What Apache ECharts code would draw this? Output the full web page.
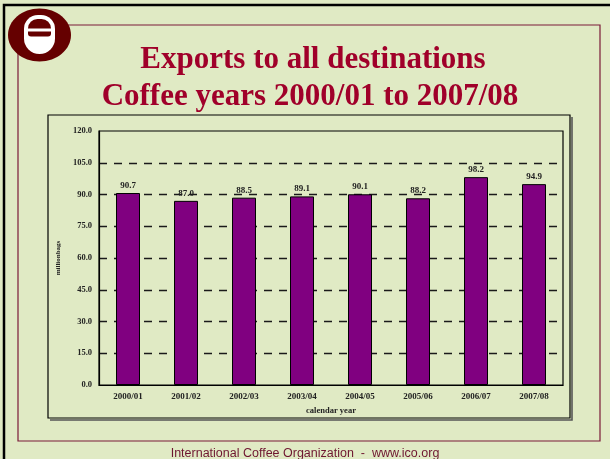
<!DOCTYPE html>
<html>
<head>
<meta charset="utf-8">
<script src="https://cdn.jsdelivr.net/npm/echarts@6/dist/echarts.min.js"></script>
<style>
  html, body { margin: 0; padding: 0; background: #e0eac4; }
  #chart { width: 610px; height: 459px; }
</style>
</head>
<body>
<div id="chart"></div>
<script>
// Coffee exports to all destinations, million bags, by coffee year
const years = ['2000/01', '2001/02', '2002/03', '2003/04', '2004/05', '2005/06', '2006/07', '2007/08'];
const exportsMillionBags = [90.7, 87.0, 88.5, 89.1, 90.1, 88.2, 98.2, 94.9];
const yTicks = [0, 15, 30, 45, 60, 75, 90, 105, 120];

const serif = '"Liberation Serif", "Times New Roman", serif';
const frameRed = '#7a1a38';
const logoRed = '#650000';
const titleFont = 'bold 31px ' + serif;

const chart = echarts.init(document.getElementById('chart'), null, { renderer: 'canvas' });

chart.setOption({
  backgroundColor: '#e0eac4',
  animation: false,
  graphic: [
    // page border (top and left edges)
    { type: 'polyline', z: 0, shape: { points: [[4, 470], [4, 5], [620, 5]] },
      style: { fill: 'none', stroke: '#000', lineWidth: 2.5 } },
    // slide frame
    { type: 'rect', z: 0, shape: { x: 18, y: 25, width: 582, height: 416 },
      style: { fill: 'none', stroke: frameRed, lineWidth: 1.2 } },
    // chart box with drop shadow
    { type: 'polyline', z: 0, shape: { points: [[572, 117], [572, 420], [50, 420]] },
      style: { fill: 'none', stroke: '#555', lineWidth: 1.6 } },
    { type: 'rect', z: 0, shape: { x: 48, y: 115, width: 522, height: 303 },
      style: { fill: 'none', stroke: '#000', lineWidth: 1.2 } },
    // two-line heading
    { type: 'text', z: 5, x: 313, y: 44,
      style: { text: 'Exports to all destinations', font: titleFont, fill: '#a0002a',
        textAlign: 'center', textVerticalAlign: 'top' } },
    { type: 'text', z: 5, x: 310, y: 81,
      style: { text: 'Coffee years 2000/01 to 2007/08', font: titleFont, fill: '#a0002a',
        textAlign: 'center', textVerticalAlign: 'top' } },
    // logo
    { type: 'ellipse', z: 10, shape: { cx: 39.5, cy: 35, rx: 31.5, ry: 26.5 },
      style: { fill: logoRed } },
    { type: 'rect', z: 11, shape: { x: 24, y: 15, width: 31, height: 39, r: [14, 14, 16, 16] },
      style: { fill: '#ffffff' } },
    { type: 'rect', z: 12, shape: { x: 28, y: 19, width: 23, height: 9.5, r: [10, 10, 0, 0] },
      style: { fill: logoRed } },
    { type: 'rect', z: 12, shape: { x: 28, y: 31.5, width: 23, height: 5, r: [0, 0, 3, 3] },
      style: { fill: logoRed } },
    // footer
    { type: 'text', z: 5, left: 'center', top: 447,
      style: { text: 'International Coffee Organization  -  www.ico.org',
        font: '12.5px "Liberation Sans", Arial, sans-serif', fill: '#6e1630' } }
  ],
  grid: {
    left: 99, right: 47, top: 131, bottom: 74,
    show: true, borderColor: '#000', borderWidth: 1.2, backgroundColor: 'transparent'
  },
  xAxis: {
    type: 'category',
    data: years,
    name: 'calendar year',
    nameLocation: 'middle',
    nameGap: 21,
    nameTextStyle: { fontFamily: serif, fontWeight: 'bold', fontSize: 8.5, color: '#222' },
    axisLine: { lineStyle: { color: '#000', width: 1.2 } },
    axisTick: { show: false },
    axisLabel: { margin: 7, fontFamily: serif, fontWeight: 'bold', fontSize: 9, color: '#222' }
  },
  yAxis: {
    type: 'value',
    min: yTicks[0],
    max: yTicks[yTicks.length - 1],
    interval: yTicks[1] - yTicks[0],
    name: 'millionbags',
    nameLocation: 'middle',
    nameGap: 36,
    nameRotate: 90,
    nameTextStyle: { fontFamily: serif, fontWeight: 'bold', fontSize: 7, color: '#222' },
    axisLine: { show: true, lineStyle: { color: '#000', width: 1.2 } },
    axisTick: { show: false },
    axisLabel: {
      margin: 7, fontFamily: serif, fontWeight: 'bold', fontSize: 8.5, color: '#222',
      formatter: v => v.toFixed(1)
    },
    splitLine: {
      show: true, showMinLine: false, showMaxLine: false,
      lineStyle: { color: '#1a1a1a', width: 1.3, type: [8, 7] }
    }
  },
  series: [{
    type: 'bar',
    data: exportsMillionBags,
    barWidth: 24,
    itemStyle: { color: '#800080', borderColor: '#000', borderWidth: 1 },
    label: {
      show: true, position: 'top', distance: 3,
      fontFamily: serif, fontWeight: 'bold', fontSize: 9, color: '#222',
      formatter: p => p.value.toFixed(1)
    }
  }]
});
</script>
</body>
</html>
